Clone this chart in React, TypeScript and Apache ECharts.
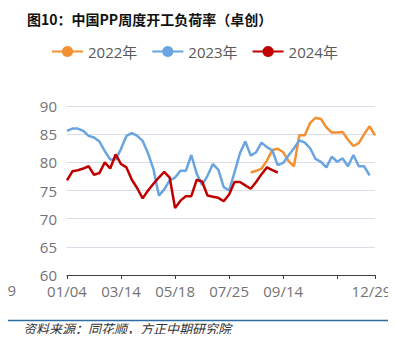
import React, { useEffect, useRef } from "react";
import * as echarts from "echarts";

const weeks: number[] = Array.from({ length: 58 }, (_, i) => i);
const tickIndex = [0, 10, 20, 30, 40, 50, 57];
const tickLabels = ["01/04", "03/14", "05/18", "07/25", "09/14", "", "12/29"];

const s2022: (number | null)[] = [
  null, null, null, null, null, null, null, null, null, null,
  null, null, null, null, null, null, null, null, null, null,
  null, null, null, null, null, null, null, null, null, null,
  null, null, null, null, 78.2, 78.5, 78.9, 80.3, 82.2, 82.4,
  81.8, 80.2, 79.3, 84.8, 84.8, 87.0, 87.9, 87.7, 86.2, 85.3,
  85.3, 85.4, 84.0, 82.9, 83.4, 85.0, 86.4, 84.8,
];

const s2023: (number | null)[] = [
  85.6, 86.0, 86.0, 85.6, 84.7, 84.4, 83.7, 82.0, 80.5, 80.5,
  82.4, 84.7, 85.2, 84.7, 83.8, 81.6, 78.8, 74.1, 75.2, 76.8,
  77.3, 78.5, 78.5, 81.3, 78.0, 76.0, 77.6, 79.7, 78.7, 75.6,
  75.0, 78.2, 81.6, 83.7, 81.2, 81.8, 83.5, 82.7, 82.1, 79.5,
  79.9, 81.2, 82.5, 83.9, 83.5, 82.5, 80.6, 80.1, 79.1, 81.0,
  80.1, 80.7, 79.3, 81.3, 79.3, 79.3, 77.7, null,
];

const s2024: (number | null)[] = [
  76.8, 78.4, 78.6, 78.9, 79.3, 77.8, 78.1, 80.0, 78.9, 81.4,
  79.7, 79.1, 76.9, 75.4, 73.6, 75.0, 76.2, 77.3, 78.3, 77.3,
  71.9, 73.2, 74.0, 74.0, 76.9, 76.6, 74.1, 73.9, 73.7, 73.1,
  74.3, 76.5, 76.5, 75.9, 75.3, 76.5, 77.9, 79.1, 78.6, 78.2,
  null, null, null, null, null, null, null, null, null, null,
  null, null, null, null, null, null, null, null,
];

const seriesNames = ["2022年", "2023年", "2024年"];
const colors = ["#F39032", "#68A5E0", "#C00000"];

const FONT = '"Open Sans", "Noto Sans CJK SC", sans-serif';
const CJK = '"Noto Sans CJK SC", sans-serif';

export default function App() {
  const ref = useRef<HTMLDivElement>(null);
  useEffect(() => {
    if (!ref.current) return;
    const chart = echarts.init(ref.current, null, { renderer: "svg" });
    const isTick = (i: number) => tickIndex.indexOf(i) >= 0;
    const mk = (name: string, data: (number | null)[], color: string) => ({
      name,
      type: "line",
      data,
      symbol: "circle",
      symbolSize: 6,
      showSymbol: false,
      connectNulls: false,
      lineStyle: { color, width: 2.5 },
      itemStyle: { color },
    });
    chart.setOption({
      animation: false,
      backgroundColor: "#ffffff",
      title: {
        text: "图10：中国PP周度开工负荷率（卓创）",
        left: 22,
        top: 7,
        textStyle: { fontFamily: CJK, fontSize: 14, fontWeight: "bold", color: "#111111" },
      },
      legend: {
        data: seriesNames,
        left: 46,
        top: 39,
        itemWidth: 31,
        itemHeight: 14,
        itemGap: 14,
        textStyle: { fontFamily: FONT, fontSize: 15, color: "#595959" },
      },
      grid: { left: 67, right: 21, top: 106, bottom: 67 },
      xAxis: {
        type: "category",
        data: weeks,
        boundaryGap: false,
        axisLine: { lineStyle: { color: "#404040", width: 1 } },
        axisTick: { show: true, length: 4, interval: (i: number) => isTick(i), lineStyle: { color: "#404040" } },
        axisLabel: {
          interval: (i: number) => isTick(i),
          formatter: (_v: string, i: number) => {
            const k = tickIndex.indexOf(i);
            if (k < 0) return "";
            return k === tickIndex.length - 1 ? "{last|" + tickLabels[k] + "}" : tickLabels[k];
          },
          margin: 8,
          fontFamily: FONT,
          fontSize: 15,
          color: "#737373",
          rich: {
            last: { padding: [0, 7, 0, 0], fontFamily: FONT, fontSize: 15, color: "#737373" },
          },
        },
        splitLine: { show: false },
      },
      yAxis: {
        type: "value",
        min: 60,
        max: 90,
        interval: 5,
        axisLine: { show: false },
        axisTick: { show: false },
        axisLabel: { margin: 10, fontFamily: FONT, fontSize: 15, color: "#737373" },
        splitLine: { lineStyle: { color: "#dadde7", width: 1 } },
      },
      series: [
        mk(seriesNames[0], s2022, colors[0]),
        mk(seriesNames[1], s2023, colors[1]),
        mk(seriesNames[2], s2024, colors[2]),
      ],
      graphic: [
        {
          type: "text",
          x: 16,
          y: 282,
          style: { text: "12/29", align: "right", verticalAlign: "top", fontFamily: FONT, fontSize: 15, fill: "#737373" },
        },
        {
          type: "line",
          shape: { x1: 0, y1: 320.5, x2: 396, y2: 320.5 },
          style: { stroke: "#2E6DA4", lineWidth: 1.5 },
        },
        {
          type: "text",
          left: 23,
          top: 322,
          style: {
            text: "资料来源：同花顺，方正中期研究院",
            fontFamily: CJK,
            fontSize: 13,
            fontStyle: "italic",
            fill: "#333333",
          },
        },
      ],
    });
    return () => chart.dispose();
  }, []);
  return <div ref={ref} style={{ width: 396, height: 342, margin: -8 }} />;
}
